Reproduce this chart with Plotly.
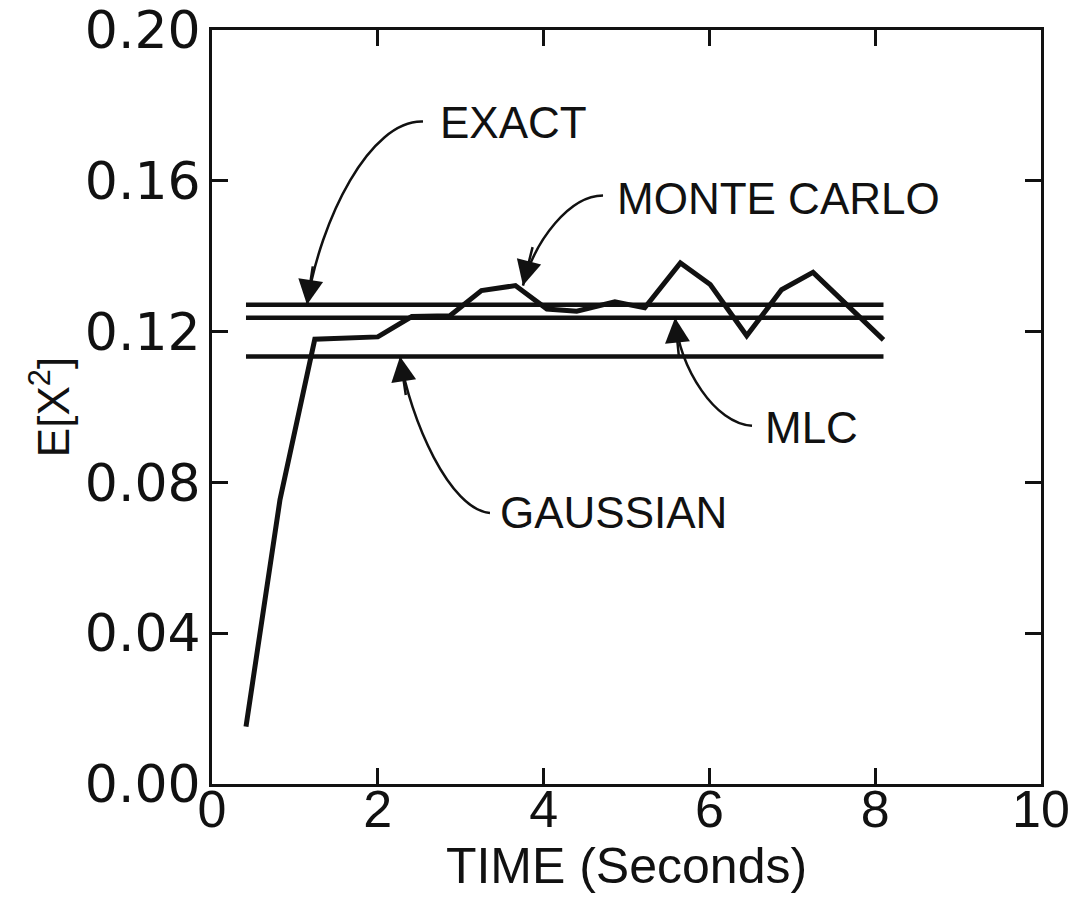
import plotly.graph_objects as go

# Monte Carlo estimate of E[X^2] versus time
time_mc = [0.41, 0.82, 1.24, 1.62, 2.00, 2.41, 2.87, 3.25, 3.66, 4.04, 4.40,
           4.86, 5.22, 5.65, 6.01, 6.45, 6.87, 7.25, 8.10]
ex2_mc = [0.0152, 0.0754, 0.1180, 0.1184, 0.1186, 0.1240, 0.1242, 0.1309,
          0.1322, 0.1260, 0.1254, 0.1279, 0.1263, 0.1382, 0.1325, 0.1189,
          0.1311, 0.1357, 0.1178]

# Stationary levels from the analytical / approximate methods
level_span = [0.41, 8.10]
ex2_exact = 0.1271
ex2_mlc = 0.1237
ex2_gaussian = 0.1134

x_ticks = [0, 2, 4, 6, 8, 10]
y_ticks = [0.00, 0.04, 0.08, 0.12, 0.16, 0.20]
y_tick_text = ["0.00", "0.04", "0.08", "0.12", "0.16", "0.20"]

INK = "#111111"
LABEL_FONT = dict(family="Liberation Sans, Arial, sans-serif", size=44, color=INK)
AXIS_FONT = "Liberation Sans Narrow, Liberation Sans, Arial, sans-serif"

fig = go.Figure()

for level in (ex2_exact, ex2_mlc, ex2_gaussian):
    fig.add_trace(go.Scatter(x=level_span, y=[level, level], mode="lines",
                             line=dict(color=INK, width=4.5), showlegend=False,
                             hoverinfo="skip"))

fig.add_trace(go.Scatter(x=time_mc, y=ex2_mc, mode="lines",
                         line=dict(color=INK, width=5), showlegend=False))

# Curved leader lines: (label, text anchor, curve start, ctrl1, ctrl2, tip, arrow tail offset px)
callouts = [
    ("EXACT", (2.73, 0.1754), (2.545, 0.1757), (1.906, 0.1762), (1.303, 0.1497),
     (1.146, ex2_exact), (6, -40)),
    ("MONTE CARLO", (4.86, 0.1553), (4.717, 0.1561), (4.318, 0.1561), (3.896, 0.1444),
     (3.751, 0.1322), (10, -40)),
    ("MLC", (6.65, 0.0945), (6.514, 0.0950), (6.068, 0.0956), (5.645, 0.1099),
     (5.585, ex2_mlc), (4, 40)),
    ("GAUSSIAN", (3.45, 0.0719), (3.353, 0.0719), (2.871, 0.0727), (2.388, 0.0966),
     (2.268, ex2_gaussian), (6, 40)),
]

for label, txt, p0, c1, c2, tip, tail in callouts:
    fig.add_annotation(x=txt[0], y=txt[1], text=label, showarrow=False,
                       xanchor="left", yanchor="middle", font=LABEL_FONT)
    path = (f"M {p0[0]},{p0[1]} C {c1[0]},{c1[1]} {c2[0]},{c2[1]} "
            f"{tip[0]},{tip[1]}")
    fig.add_shape(type="path", path=path, xref="x", yref="y",
                  line=dict(color=INK, width=2.5))
    fig.add_annotation(x=tip[0], y=tip[1], text="", showarrow=True,
                       ax=tail[0], ay=tail[1], arrowhead=2, arrowsize=2,
                       arrowwidth=2.5, arrowcolor=INK, standoff=0)

fig.update_xaxes(
    range=[0, 10], tickvals=x_ticks, ticktext=[str(v) for v in x_ticks],
    showline=True, linecolor=INK, linewidth=3, mirror="ticks",
    ticks="inside", ticklen=16, tickwidth=3, tickcolor=INK,
    showgrid=False, zeroline=False, ticklabeloverflow="allow",
    ticklabelstandoff=-22,
    tickfont=dict(family=AXIS_FONT, size=52, color=INK),
    title=dict(text="TIME (Seconds)", standoff=0,
               font=dict(family=AXIS_FONT, size=50, color=INK)),
)
fig.update_yaxes(
    range=[0, 0.20], tickvals=y_ticks, ticktext=y_tick_text,
    showline=True, linecolor=INK, linewidth=3, mirror="ticks",
    ticks="inside", ticklen=16, tickwidth=3, tickcolor=INK,
    showgrid=False, zeroline=False, ticklabelstandoff=-2,
    tickfont=dict(family="DejaVu Sans, Verdana, sans-serif", size=52, color=INK),
    title=dict(text="E[X<sup>2</sup>]", standoff=2,
               font=dict(family="Liberation Sans, Arial", size=44, color=INK)),
)

fig.update_layout(
    width=1069, height=905,
    margin=dict(l=212, r=28, t=30, b=121, autoexpand=False),
    paper_bgcolor="white", plot_bgcolor="white",
    showlegend=False,
)

fig.write_html("out.html")
